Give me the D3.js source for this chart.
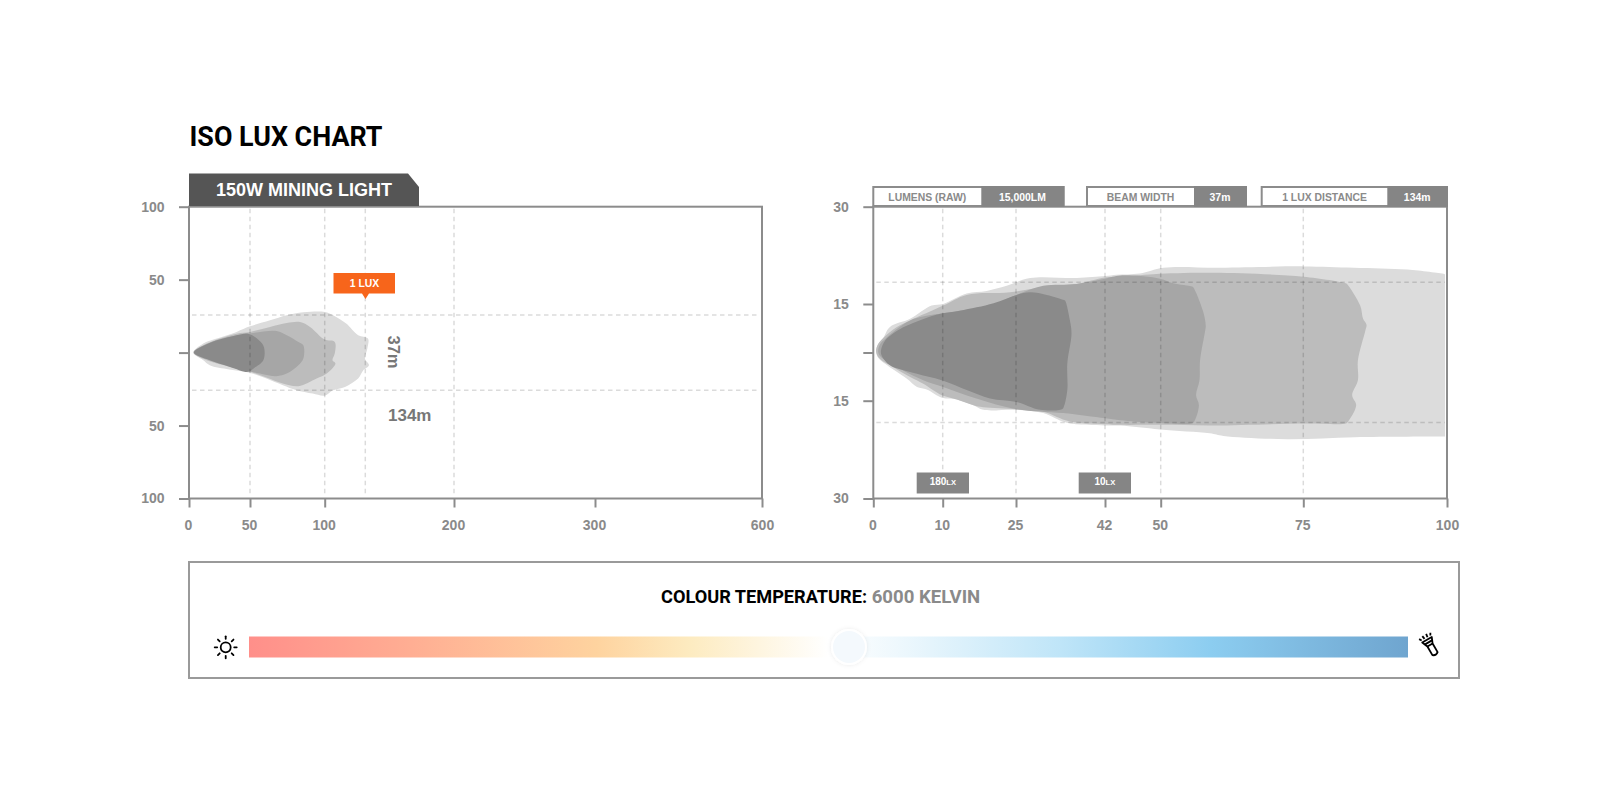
<!DOCTYPE html>
<html><head><meta charset="utf-8"><script src="https://cdnjs.cloudflare.com/ajax/libs/d3/7.8.5/d3.min.js"></script>
<style>html,body{margin:0;background:#fff}svg{display:block}text{font-family:"Liberation Sans",Arial,sans-serif;font-weight:700}</style></head><body><svg id="c" width="1600" height="796"></svg>
<script>
const titleText="ISO LUX CHART", tabText="150W MINING LIGHT";
const leftXTicks=[0,50,100,200,300,600], leftXKnots=[0,50,100,134,200,300,600];
const leftYTicks=[100,50,0,-50,-100];
const leftVGrid=[50,100,134,200], leftHGrid=[25.8,-25.8];
const rightXTicks=[0,10,25,42,50,75,100], rightYTicks=[30,15,0,-15,-30], rightYKnots=[-30,-15,0,15,30];
const rightVGrid=[10,25,42,50,75], rightHGrid=[18.35,-18.35];
const left1=[[3.6,0],[11.7,6.2],[20,8.9],[39,14.2],[50,18],[63.4,22.1],[74.6,25.6],[85.7,27.6],[100,27.9],[107,25.6],[118,19.9],[128,11.9],[136,9.6],[135.5,2.7],[133.7,-4.1],[136.7,-8.7],[132.3,-12.1],[128,-17.8],[117,-23.5],[107,-25.8],[100,-29.5],[92,-28.1],[81,-25.8],[72,-22.4],[61,-17.8],[50,-13.9],[33,-11.6],[17,-8.7],[11.7,-5.3]];
const left2=[[3.6,0],[14.5,6.2],[39,13],[50,14.2],[63.4,17.6],[74.6,20.3],[83.5,21],[90.2,17.6],[100,8.9],[108.4,7.3],[108.4,-0.7],[106.5,-5.3],[109,-7.5],[101.7,-14.4],[94.6,-17.8],[82.4,-23],[72,-21.2],[61,-17.1],[50,-13.2],[36,-10.3],[14.5,-5.3]];
const left3=[[4,0],[15.8,6.2],[39,11.9],[52.2,13.5],[67.8,14.8],[74.6,11.9],[82.4,7.3],[85.7,5],[85.7,-4.1],[82.4,-8.7],[74.6,-14.4],[67.8,-16.2],[56.7,-14.4],[39,-10.3],[17,-5.3]];
const left4=[[4,0],[17,6.6],[39,11.9],[48.6,13],[56,8.4],[59.3,3.9],[58.9,-5.3],[52.2,-11],[48.6,-13.2],[33.6,-9.8],[17,-5.3]];
const right1=[[0.4,0.4],[0.7,2.6],[1.4,4.4],[2.4,7.9],[5.3,10.4],[8.4,14.5],[10.1,15],[14.9,16.6],[19,17],[23.1,17.8],[27.7,19],[36.6,19],[42,19.3],[43.7,19.5],[47,19.7],[50.5,20.6],[60.4,20.6],[75,20.8],[83.8,20.6],[93.1,20.3],[99.6,19.6],[100,19.5],[100,19.1],[100,-20.1],[100,-20.5],[99.6,-20.5],[84,-20.6],[72.1,-20.9],[61,-20.4],[58.6,-20],[49.9,-19.4],[44.2,-18.8],[42,-18.8],[34.7,-18.4],[30.2,-16.9],[25.1,-16.4],[18.3,-16.4],[16.3,-15.7],[12.9,-14.6],[9.9,-14.1],[7.7,-11.5],[6.3,-10.7],[4.8,-8.1],[1.7,-3.5],[0.7,-1.6]];
const right2=[[0.4,0.4],[0.7,2.6],[1.4,4.4],[3.4,7.9],[5.3,9.9],[10.1,14.5],[14.9,16.4],[23.8,16.8],[31.5,17.8],[36.6,18.1],[42,19.1],[44.2,19.2],[49,19.6],[59.2,19.8],[75,19.2],[82.4,18.2],[82.6,18.1],[84.9,14.5],[85.4,10.4],[86,8.6],[85.8,6.8],[84.5,-2.5],[84.5,-8.6],[83.5,-13.3],[84.2,-15.7],[82.7,-18.3],[82.4,-18.5],[75,-18.5],[59.2,-18.8],[50,-18.7],[44.2,-18.7],[42,-18.6],[35.3,-18.2],[30.2,-16.7],[25.1,-16.3],[18.3,-16],[16.3,-15.7],[12.9,-14.6],[9.9,-13.3],[7.2,-9.7],[5.3,-7.6],[2.4,-4],[0.8,-1.6]];
const right3=[[0.7,0.4],[1,2.6],[1.7,4.2],[5.3,9.9],[9.1,11.9],[10.1,12.1],[20.4,15],[25.1,16.4],[30.2,17.8],[36.6,18.1],[42,18.9],[44.2,19.4],[49.9,18.9],[52.2,18.2],[55.5,17.7],[55.7,17.6],[57.4,12.9],[57.9,8.3],[57.8,6.8],[56.9,-2.5],[56.8,-8.6],[56.2,-13.3],[56.7,-15.7],[55.8,-18.3],[55.4,-18.5],[49,-18.4],[44.2,-18],[42,-17.7],[34,-16.9],[25.1,-16.3],[16.9,-14.3],[10.1,-10.7],[7.2,-8.6],[3.4,-4.5],[1,-1.2]];
const right4=[[1.1,0.6],[1.7,3.7],[3.1,6.3],[4.8,8.3],[9.1,11.7],[13.5,12.9],[20.4,15.1],[25.1,16.4],[27.7,16.8],[30.9,16.4],[34.2,15.6],[34.4,15.5],[35.3,9.9],[35.6,5.8],[34.8,-3.5],[34.8,-11.7],[34.1,-16],[33.8,-16.3],[29.6,-16.4],[25.1,-15.2],[19.7,-14.3],[14.9,-11.7],[10.1,-8.8],[5.3,-6.1],[2.4,-4],[1.2,-0.9]];
const contourFills=["#dcdcdc","#bcbcbc","#a6a6a6","#8a8a8a"];
const gradOffsets=[0,0.14,0.3,0.38,0.5,0.56,0.7,0.83,1];
const gradColors=["#ff8f8a","#ffae93","#fed39f","#fdebc0","#ffffff","#eef8fd","#bfe5f8","#8ccdf0","#6fa5cf"];
const svg=d3.select("#c"), axisC="#8c8c8c", labelC="#8a8a8a", darkC="#777";

const lx=d3.scaleLinear().domain(leftXKnots).range([189,250,324.7,365.3,454,595,762]);
const ly=d3.scaleLinear().domain([-100,100]).range([498.5,206.7]);
const rx=d3.scaleLinear().domain(rightXTicks).range([873.3,942.7,1016,1105,1160.7,1303.3,1447]);
const ry=d3.scaleLinear().domain(rightYKnots).range([498.5,400.7,352.5,304,206.7]);
const defs=svg.append("defs");

svg.append("text").attr("x",189.5).attr("y",146).attr("textLength",193).attr("lengthAdjust","spacingAndGlyphs").style("font-family","Roboto").style("font-size","28px").text(titleText);

function panel(id,x,y,cs,xt,yt,hg,vg,pad){
  const rg=x.range(), x0=rg[0], x1=rg[rg.length-1], yr=y.range(), yb=yr[0], yt0=yr[yr.length-1];
  defs.append("clipPath").attr("id",id).append("rect").attr("x",x0).attr("y",yt0).attr("width",x1-x0-2).attr("height",yb-yt0);
  const poly=d3.line().x(d=>x(d[0])).y(d=>y(d[1])).curve(d3.curveCatmullRomClosed.alpha(0.5));
  svg.append("g").attr("clip-path",`url(#${id})`).selectAll("path").data(cs).enter().append("path").attr("d",d=>poly(d)).attr("fill",(d,i)=>contourFills[i]);
  const g=svg.append("g").attr("stroke","#000").attr("stroke-opacity",0.14).attr("stroke-dasharray","4.5 3.5").attr("stroke-width",1.5);
  vg.forEach(v=>g.append("line").attr("x1",x(v)).attr("x2",x(v)).attr("y1",yt0+2).attr("y2",yb-2));
  hg.forEach(v=>g.append("line").attr("x1",x0+3).attr("x2",x1-2).attr("y1",y(v)).attr("y2",y(v)));
  svg.append("rect").attr("x",x0).attr("y",yt0).attr("width",x1-x0).attr("height",yb-yt0).attr("fill","none").attr("stroke",axisC).attr("stroke-width",2);
  const axb=d3.axisBottom(x).tickValues(xt).tickSize(9).tickSizeOuter(0).tickPadding(13).tickFormat(d3.format("d"));
  const ga=svg.append("g").attr("transform",`translate(0,${yb})`).call(axb);
  const axl=d3.axisLeft(y).tickValues(yt).tickSize(10).tickPadding(pad).tickFormat(d=>d===0?"":Math.abs(d));
  const gl=svg.append("g").attr("transform",`translate(${x0},0)`).call(axl);
  [ga,gl].forEach(s=>{s.select(".domain").remove();s.selectAll("line").attr("stroke",axisC).attr("stroke-width",2);
    s.selectAll("text").attr("fill",labelC).style("font-size","14px").style("font-family",'"Liberation Sans"');});
  ga.selectAll("text").attr("dx",d=>d===xt[xt.length-1]?0:-1);
}
panel("cl",lx,ly,[left1,left2,left3,left4],leftXTicks,leftYTicks,leftHGrid,leftVGrid,14.5);
panel("cr",rx,ry,[right1,right2,right3,right4],rightXTicks,rightYTicks,rightHGrid,rightVGrid,14.5);

// tab
svg.append("path").attr("d",d3.line()([[189,173.5],[408,173.5],[419,187],[419,206],[189,206]])).attr("fill","#555");
svg.append("text").attr("x",304).attr("y",196).attr("text-anchor","middle").attr("fill","#fff").style("font-size","18px").text(tabText);

// 1 lux
svg.append("path").attr("d",d3.line()([[333.5,273],[395,273],[395,293.5],[369,293.5],[365.5,299],[362,293.5],[333.5,293.5]])).attr("fill","#f7651b");
svg.append("text").attr("x",364.5).attr("y",287).attr("text-anchor","middle").attr("fill","#fff").style("font-size","10.4px").text("1 LUX");
svg.append("text").attr("transform","translate(388,352) rotate(90)").attr("text-anchor","middle").attr("fill",darkC).style("font-size","16.5px").text("37m");
svg.append("text").attr("x",388).attr("y",421).attr("fill",darkC).style("font-size","17px").text("134m");

// info boxes
const infoLabels=["LUMENS (RAW)","BEAM WIDTH","1 LUX DISTANCE"], infoValues=["15,000LM","37m","134m"];
const infoX=[[873.3,981.3,1063.5],[1087,1194,1246],[1261.7,1387.3,1447]];
infoLabels.forEach((t,i)=>{const [a,b,c]=infoX[i];
  svg.append("rect").attr("x",a).attr("y",187).attr("width",c-a).attr("height",19).attr("fill","#fff").attr("stroke",axisC).attr("stroke-width",2);
  svg.append("rect").attr("x",b).attr("y",186).attr("width",c-b+1).attr("height",21).attr("fill","#858585");
  svg.append("text").attr("x",(a+b)/2).attr("y",201).attr("text-anchor","middle").attr("fill",labelC).style("font-size","10.4px").text(t);
  svg.append("text").attr("x",(b+c)/2).attr("y",201).attr("text-anchor","middle").attr("fill","#fff").style("font-size","10.4px").text(infoValues[i]);
});
// lux tags
const luxTags=[["180",916.7,969],["10",1078.7,1131]];
luxTags.forEach(([t,a,b])=>{
  svg.append("rect").attr("x",a).attr("y",472.5).attr("width",b-a).attr("height",21).attr("fill","#858585");
  const tx=svg.append("text").attr("x",(a+b)/2).attr("y",485).attr("text-anchor","middle").attr("fill","#fff").style("font-size","10px");
  tx.append("tspan").text(t); tx.append("tspan").style("font-size","7.6px").text("LX");
});

// colour bar
svg.append("rect").attr("x",189).attr("y",562).attr("width",1270).attr("height",116).attr("fill","#fff").attr("stroke","#9a9a9a").attr("stroke-width",2);
const gr=defs.append("linearGradient").attr("id","g");
gradOffsets.forEach((o,i)=>gr.append("stop").attr("offset",o).attr("stop-color",gradColors[i]));
const f=defs.append("filter").attr("id","s").attr("x","-50%").attr("y","-50%").attr("width","200%").attr("height","200%");
f.append("feDropShadow").attr("dx",0).attr("dy",0).attr("stdDeviation",2).attr("flood-color","#000").attr("flood-opacity",0.08);
svg.append("rect").attr("x",249).attr("y",636.5).attr("width",1159).attr("height",21).attr("fill","url(#g)");
svg.append("circle").attr("cx",849).attr("cy",647).attr("r",17).attr("fill","#f4f9fd").attr("stroke","#fff").attr("stroke-width",2).attr("filter","url(#s)");
const t=svg.append("text").attr("y",603.3).style("font-family","Roboto").style("font-size","19px");
t.append("tspan").attr("x",661).attr("textLength",206).attr("lengthAdjust","spacingAndGlyphs").attr("fill","#000").text("COLOUR TEMPERATURE:");
t.append("tspan").attr("x",871.7).attr("textLength",108.5).attr("lengthAdjust","spacingAndGlyphs").attr("fill","#8a8a8a").text("6000 KELVIN");

// icons
const sun=svg.append("g").attr("transform","translate(225.7,647.3)").attr("stroke","#000").attr("stroke-width",1.8).attr("fill","none").attr("stroke-linecap","round");
sun.append("circle").attr("r",5);
d3.range(8).forEach(i=>{const a=i*Math.PI/4;sun.append("line").attr("x1",8.5*Math.cos(a)).attr("y1",8.5*Math.sin(a)).attr("x2",11*Math.cos(a)).attr("y2",11*Math.sin(a));});
const fl=svg.append("g").attr("transform","translate(1430,645) rotate(-30)").attr("stroke","#000").attr("stroke-width",1.8).attr("fill","#fff").attr("stroke-linejoin","round");
fl.append("path").attr("d","M-5.5,-6 L5.5,-6 L3,0 L3,10 Q0,12.5 -3,10 L-3,0 Z");
fl.append("line").attr("x1",-3).attr("y1",0).attr("x2",3).attr("y2",0);
fl.append("line").attr("x1",-4.5).attr("y1",-3).attr("x2",4.5).attr("y2",-3);
[[-5,-8,-6.5,-10.5],[-1.7,-8,-2.2,-11.5],[1.7,-8,2.2,-11.5],[5,-8,6.5,-10.5]].forEach(a=>fl.append("line").attr("x1",a[0]).attr("y1",a[1]).attr("x2",a[2]).attr("y2",a[3]));
</script></body></html>
